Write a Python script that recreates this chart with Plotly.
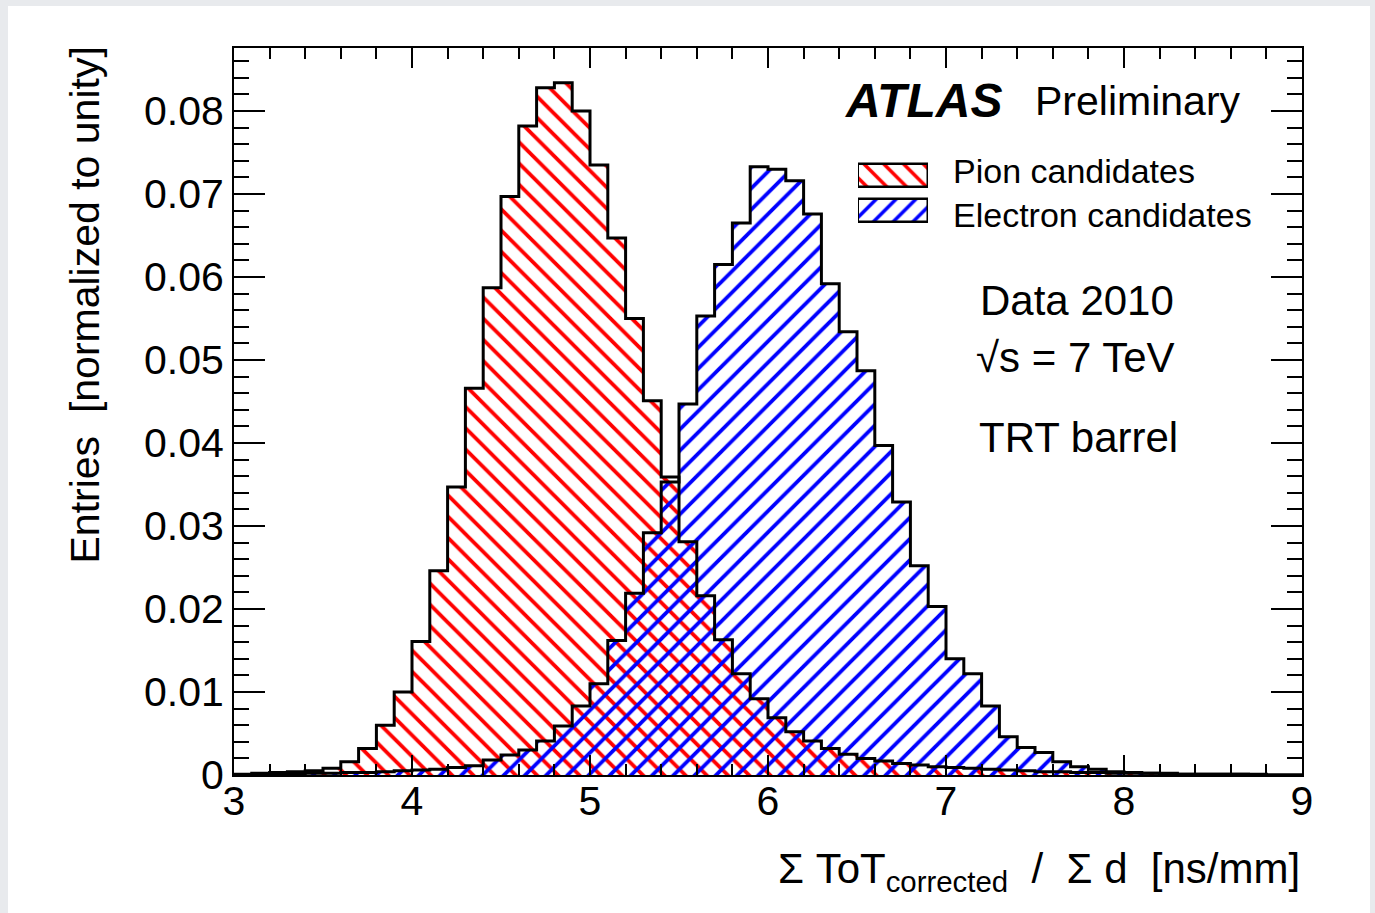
import numpy as np
import plotly.graph_objects as go

# ---- data (bin width 0.1 from 3.0 to 9.0) ----
bin_low = [round(3.0 + 0.1 * i, 1) for i in range(60)]

pion = [0.0001, 0.0002, 0.0003, 0.0004, 0.0005, 0.0008, 0.0016, 0.0032, 0.0060, 0.0100,
        0.0161, 0.0246, 0.0347, 0.0466, 0.0587, 0.0697, 0.0782, 0.0828, 0.0834, 0.0800,
        0.0735, 0.0647, 0.0550, 0.0451, 0.0359, 0.0281, 0.0216, 0.0163, 0.0122, 0.0092,
        0.0069, 0.0052, 0.0041, 0.0032, 0.0025, 0.0020, 0.0017, 0.0014, 0.0012, 0.0010,
        0.0009, 0.0008, 0.0007, 0.0006, 0.0005, 0.0004, 0.0004, 0.0003, 0.0003, 0.0002,
        0.0002, 0.0002, 0.0001, 0.0001, 0.0001, 0.0001, 0.0001, 0.0001, 0.0000, 0.0000]

electron = [0.0000, 0.0001, 0.0001, 0.0001, 0.0002, 0.0002, 0.0003, 0.0003, 0.0004, 0.0005,
            0.0006, 0.0007, 0.0009, 0.0011, 0.0018, 0.0024, 0.0030, 0.0041, 0.0059, 0.0083,
            0.0110, 0.0162, 0.0219, 0.0292, 0.0353, 0.0447, 0.0553, 0.0615, 0.0665, 0.0733,
            0.0730, 0.0716, 0.0676, 0.0592, 0.0534, 0.0487, 0.0397, 0.0329, 0.0252, 0.0203,
            0.0140, 0.0122, 0.0083, 0.0046, 0.0033, 0.0027, 0.0016, 0.0010, 0.0007, 0.0004,
            0.0003, 0.0002, 0.0002, 0.0001, 0.0001, 0.0001, 0.0001, 0.0000, 0.0000, 0.0000]

series_names = ["Pion candidates", "Electron candidates"]
bin_width = 0.1
x_ticks = [3, 4, 5, 6, 7, 8, 9]
y_ticks = [0, 0.01, 0.02, 0.03, 0.04, 0.05, 0.06, 0.07, 0.08]
y_ticktext = ["0", "0.01", "0.02", "0.03", "0.04", "0.05", "0.06", "0.07", "0.08"]

FONT = "Liberation Sans, Arial, Helvetica, sans-serif"
RED_PAT = dict(shape="\\", fgcolor="#ff0000", bgcolor="rgba(0,0,0,0)", size=15, solidity=0.25,
               fillmode="overlay", fgopacity=1)
BLUE_PAT = dict(shape="/", fgcolor="#0000ff", bgcolor="rgba(0,0,0,0)", size=15, solidity=0.25,
                fillmode="overlay", fgopacity=1)

centers = [b + bin_width / 2 for b in bin_low]
edges = bin_low + [round(bin_low[-1] + bin_width, 1)]

fig = go.Figure()

for vals, pat, name in ((pion, RED_PAT, series_names[0]), (electron, BLUE_PAT, series_names[1])):
    fig.add_trace(go.Bar(
        x=centers, y=vals, width=bin_width, name=name, opacity=1,
        marker=dict(color="rgba(0,0,0,0)", line=dict(width=0), pattern=pat),
        showlegend=False, hoverinfo="skip"))

for vals in (pion, electron):
    fig.add_trace(go.Scatter(
        x=edges, y=vals + [vals[-1]], mode="lines", line=dict(shape="hv", color="black", width=3),
        showlegend=False, hoverinfo="skip"))

L, R, T, B = 234, 73, 48, 138
W, H = 1375, 913
pw, ph = W - L - R, H - T - B

def px(xp):
    return (xp - L) / pw

def py(yp):
    return (H - B - yp) / ph

# legend key boxes (drawn as bars on a small hidden axis pair)
key_rows = [1, 0]
for row, pat, name in ((key_rows[0], RED_PAT, series_names[0]), (key_rows[1], BLUE_PAT, series_names[1])):
    fig.add_trace(go.Bar(
        x=[1], y=[row], orientation="h", width=0.66, base=0, opacity=1,
        marker=dict(color="rgba(0,0,0,0)", line=dict(width=2.5, color="black"),
                    pattern=dict(pat, size=14)),
        xaxis="x2", yaxis="y2", showlegend=False, hoverinfo="skip", name=name))

axis_common = dict(showline=True, linecolor="black", linewidth=2, mirror="ticks",
                   ticks="inside", tickcolor="black", tickwidth=1.5,
                   showgrid=False, zeroline=False,
                   tickfont=dict(family=FONT, size=41, color="black"))

fig.update_layout(
    xaxis=dict(range=[3, 9], tickvals=x_ticks, ticklen=20, ticklabelstandoff=-11,
               minor=dict(dtick=0.2, tick0=3, ticklen=11, ticks="inside", tickcolor="black", tickwidth=1.5),
               **axis_common),
    yaxis=dict(range=[0, 0.0876], tickvals=y_ticks, ticktext=y_ticktext, ticklen=31,
               minor=dict(dtick=0.002, tick0=0, ticklen=15, ticks="inside", tickcolor="black", tickwidth=1.5),
               **axis_common),
    xaxis2=dict(domain=[px(858), px(928)], anchor="y2", range=[0, 1], visible=False, fixedrange=True),
    yaxis2=dict(domain=[py(228), py(158)], anchor="x2", range=[-0.5, 1.5], visible=False, fixedrange=True),
)

annotations = [
    dict(text="<b><i>ATLAS</i></b>", x=px(843), y=py(100), xanchor="left", yanchor="middle",
         font=dict(family=FONT, size=48, color="black")),
    dict(text="Preliminary", x=px(1033), y=py(101), xanchor="left", yanchor="middle",
         font=dict(family=FONT, size=41, color="black")),
    dict(text=series_names[0], x=px(951), y=py(171), xanchor="left", yanchor="middle",
         font=dict(family=FONT, size=34, color="black")),
    dict(text=series_names[1], x=px(951), y=py(215), xanchor="left", yanchor="middle",
         font=dict(family=FONT, size=34, color="black")),
    dict(text="Data 2010", x=px(1077), y=py(300), xanchor="center", yanchor="middle",
         font=dict(family=FONT, size=42, color="black")),
    dict(text="\u221as = 7 TeV", x=px(1075), y=py(357), xanchor="center", yanchor="middle",
         font=dict(family=FONT, size=42, color="black")),
    dict(text="TRT barrel", x=px(1078), y=py(437), xanchor="center", yanchor="middle",
         font=dict(family=FONT, size=42, color="black")),
    dict(text="Entries\u00a0\u00a0[normalized to unity]", textangle=-90, x=px(85), y=py(45),
         xanchor="center", yanchor="top", font=dict(family=FONT, size=41, color="black")),
    dict(text="\u03a3 ToT<sub>corrected</sub>\u00a0\u00a0/\u00a0\u00a0\u03a3 d\u00a0\u00a0[ns/mm]",
         x=px(1302), y=py(843), xanchor="right", yanchor="top",
         font=dict(family=FONT, size=42, color="black")),
]
for a in annotations:
    a.update(xref="paper", yref="paper", showarrow=False)

fig.update_layout(
    width=W, height=H, autosize=False,
    margin=dict(l=L, r=R, t=T, b=B),
    paper_bgcolor="#e8eaed", plot_bgcolor="white",
    barmode="overlay", bargap=0,
    annotations=annotations,
    showlegend=False,
    shapes=[dict(type="rect", xref="paper", yref="paper", layer="below",
                 x0=px(8), x1=px(1370), y0=py(H + 5), y1=py(6),
                 fillcolor="white", line=dict(width=0))],
)

fig.write_html("out.html")
